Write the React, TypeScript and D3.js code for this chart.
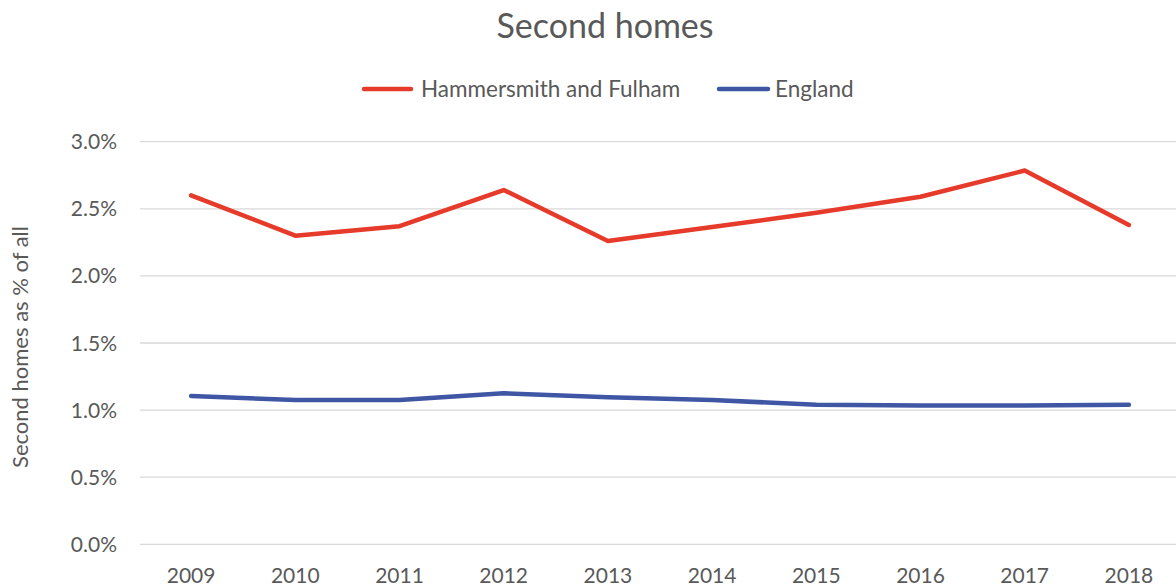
import React from "react";
import * as d3 from "d3";

const years = ["2009", "2010", "2011", "2012", "2013", "2014", "2015", "2016", "2017", "2018"];
const hammersmith = [2.60, 2.30, 2.37, 2.64, 2.26, 2.365, 2.47, 2.59, 2.785, 2.38];
const england = [1.105, 1.075, 1.075, 1.125, 1.095, 1.075, 1.04, 1.035, 1.035, 1.04];
const yTicks = [0, 0.5, 1.0, 1.5, 2.0, 2.5, 3.0];

const W = 1176;
const H = 588;
const FONT = "Lato, sans-serif";
const TEXT = "#595959";
const RED = "#E63A2A";
const BLUE = "#3F56A5";

export default function App() {
  const x = d3.scaleBand<string>().domain(years).range([139, 1181]);
  const y = d3.scaleLinear().domain([0, 3]).range([544.3, 141.7]);
  const line = d3
    .line<number>()
    .x((_, i) => (x(years[i]) as number) + x.bandwidth() / 2)
    .y((d) => y(d));

  return (
    <svg width={W} height={H} style={{ position: "absolute", left: 0, top: 0, background: "#fff" }}>
      <text x={605} y={38} textAnchor="middle" fontFamily={FONT} fontSize={34} fill={TEXT}>
        Second homes
      </text>
      {/* legend */}
      <line x1={364} x2={411} y1={89} y2={89} stroke={RED} strokeWidth={4.5} strokeLinecap="round" />
      <text x={421} y={97} fontFamily={FONT} fontSize={22.5} fill={TEXT}>
        Hammersmith and Fulham
      </text>
      <line x1={719} x2={768} y1={89} y2={89} stroke={BLUE} strokeWidth={4.5} strokeLinecap="round" />
      <text x={775} y={97} fontFamily={FONT} fontSize={22.5} fill={TEXT}>
        England
      </text>
      {/* gridlines */}
      {yTicks.map((t) => (
        <g key={t}>
          <line x1={140} x2={W} y1={y(t)} y2={y(t)} stroke="#d9d9d9" strokeWidth={1.3} />
          <text x={117} y={y(t) + 7.5} textAnchor="end" fontFamily={FONT} fontSize={21} fill={TEXT}>
            {t.toFixed(1) + "%"}
          </text>
        </g>
      ))}
      {years.map((yr) => (
        <text
          key={yr}
          x={(x(yr) as number) + x.bandwidth() / 2}
          y={583}
          textAnchor="middle"
          fontFamily={FONT}
          fontSize={21}
          fill={TEXT}
        >
          {yr}
        </text>
      ))}
      <text
        transform={`translate(28,${347}) rotate(-90)`}
        textAnchor="middle"
        fontFamily={FONT}
        fontSize={22}
        fill={TEXT}
      >
        Second homes as % of all
      </text>
      <path d={line(england) || ""} fill="none" stroke={BLUE} strokeWidth={4.5} strokeLinecap="round" strokeLinejoin="round" />
      <path d={line(hammersmith) || ""} fill="none" stroke={RED} strokeWidth={4.5} strokeLinecap="round" strokeLinejoin="round" />
    </svg>
  );
}
